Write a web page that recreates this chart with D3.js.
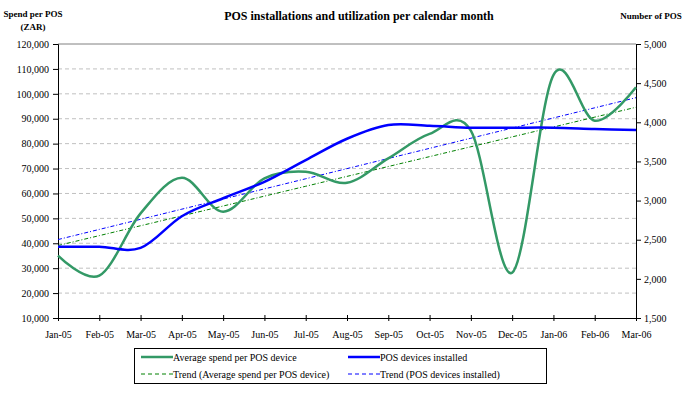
<!DOCTYPE html>
<html>
<head>
<meta charset="utf-8">
<script src="https://cdn.jsdelivr.net/npm/d3@7"></script>
<style>
  body { margin: 0; background: #fff; }
  svg, svg text { font-family: "Liberation Serif", "Times New Roman", serif; }
</style>
</head>
<body>
<svg id="chart" width="684" height="395"></svg>
<script>
// data
const months = ["Jan-05", "Feb-05", "Mar-05", "Apr-05", "May-05", "Jun-05", "Jul-05", "Aug-05",
  "Sep-05", "Oct-05", "Nov-05", "Dec-05", "Jan-06", "Feb-06", "Mar-06"];
const avgSpend = [35000, 27000, 52000, 66300, 52700, 66100, 68700, 64300,
  74100, 83900, 85200, 28200, 107500, 89200, 102600];
const devices = [2410, 2410, 2395, 2800, 3030, 3240, 3518, 3790,
  3965, 3956, 3931, 3931, 3931, 3914, 3901];
const leftTicks = d3.range(10000, 120001, 10000);
const rightTicks = d3.range(1500, 5001, 500);

// plot box
const margin = { top: 44, right: 48, bottom: 77, left: 58 };
const width = 684 - margin.left - margin.right;
const height = 395 - margin.top - margin.bottom;

const svg = d3.select("#chart");
const g = svg.append("g").attr("transform", `translate(${margin.left},${margin.top})`);

// scales
const x = d3.scalePoint().domain(months).range([0, width]);
const yL = d3.scaleLinear().domain([10000, 120000]).range([height, 0]);
const yR = d3.scaleLinear().domain([1500, 5000]).range([height, 0]);

// linear trend (least squares over month index)
function trend(values) {
  const n = values.length;
  const xs = d3.range(n);
  const mx = d3.mean(xs), my = d3.mean(values);
  const b = d3.sum(xs, i => (i - mx) * (values[i] - my)) / d3.sum(xs, i => (i - mx) ** 2);
  const a = my - b * mx;
  return xs.map(i => a + b * i);
}

// gridlines
g.append("g")
  .selectAll("line")
  .data(leftTicks.filter(t => t > 10000 && t < 120000))
  .join("line")
  .attr("x1", 0).attr("x2", width)
  .attr("y1", d => yL(d)).attr("y2", d => yL(d))
  .attr("stroke", "#c0c0c0")
  .attr("stroke-dasharray", "4,3");

g.append("line")
  .attr("x1", 0).attr("x2", width)
  .attr("y1", 0).attr("y2", 0)
  .attr("stroke", "#808080");

// axes
const fmt = d3.format(",");
const leftAxis = g.append("g")
  .call(d3.axisLeft(yL).tickValues(leftTicks).tickFormat(fmt).tickSize(5).tickPadding(4));
const rightAxis = g.append("g")
  .attr("transform", `translate(${width},0)`)
  .call(d3.axisRight(yR).tickValues(rightTicks).tickFormat(fmt).tickSize(5).tickPadding(3));
const bottomAxis = g.append("g")
  .attr("transform", `translate(0,${height})`)
  .call(d3.axisBottom(x).tickSize(3).tickPadding(10));

[leftAxis, rightAxis, bottomAxis].forEach(a => {
  a.attr("font-family", "Liberation Serif, serif").attr("font-size", 10);
  a.select(".domain").attr("stroke", "#000");
  a.selectAll(".tick line").attr("stroke", "#000");
  a.selectAll("text").attr("fill", "#000");
});
bottomAxis.selectAll(".tick line").attr("y1", -3);

// trend lines
const trendLine = (scale) => d3.line().x((d, i) => x(months[i])).y(d => scale(d));
g.append("path")
  .datum(trend(avgSpend))
  .attr("d", trendLine(yL))
  .attr("fill", "none").attr("stroke", "#008000").attr("stroke-width", 1)
  .attr("stroke-dasharray", "4,2,1,2");
g.append("path")
  .datum(trend(devices))
  .attr("d", trendLine(yR))
  .attr("fill", "none").attr("stroke", "#0000ff").attr("stroke-width", 1)
  .attr("stroke-dasharray", "4,2,1,2");

// smoothed series
const smooth = (scale) => d3.line()
  .x((d, i) => x(months[i]))
  .y(d => scale(d))
  .curve(d3.curveCardinal.tension(0));

g.append("path")
  .datum(avgSpend)
  .attr("d", smooth(yL))
  .attr("fill", "none").attr("stroke", "#339966").attr("stroke-width", 2.5);
g.append("path")
  .datum(devices)
  .attr("d", smooth(yR))
  .attr("fill", "none").attr("stroke", "#0000ff").attr("stroke-width", 2.5);

// titles
svg.append("text")
  .attr("x", 359).attr("y", 20)
  .attr("text-anchor", "middle")
  .style("font-size", "12px").style("font-weight", "bold")
  .text("POS installations and utilization per calendar month");

svg.append("text")
  .attr("x", 33).attr("y", 17)
  .attr("text-anchor", "middle")
  .style("font-size", "9px").style("font-weight", "bold")
  .text("Spend per POS");
svg.append("text")
  .attr("x", 33).attr("y", 30)
  .attr("text-anchor", "middle")
  .style("font-size", "9px").style("font-weight", "bold")
  .text("(ZAR)");
svg.append("text")
  .attr("x", 651).attr("y", 19)
  .attr("text-anchor", "middle")
  .style("font-size", "9px").style("font-weight", "bold")
  .text("Number of POS");

// legend
const legend = svg.append("g");
legend.append("rect")
  .attr("x", 134.5).attr("y", 348.5)
  .attr("width", 412).attr("height", 35)
  .attr("fill", "#fff").attr("stroke", "#000");

const legendItems = [
  { label: "Average spend per POS device", color: "#339966", w: 2.5, dash: null, x: 141, y: 357 },
  { label: "POS devices installed", color: "#0000ff", w: 2.5, dash: null, x: 348, y: 357 },
  { label: "Trend (Average spend per POS device)", color: "#008000", w: 1, dash: "4,3", x: 141, y: 374 },
  { label: "Trend (POS devices installed)", color: "#0000ff", w: 1, dash: "4,3", x: 348, y: 374 }
];
legendItems.forEach(d => {
  legend.append("line")
    .attr("x1", d.x).attr("x2", d.x + 32)
    .attr("y1", d.y).attr("y2", d.y)
    .attr("stroke", d.color).attr("stroke-width", d.w)
    .attr("stroke-dasharray", d.dash);
  legend.append("text")
    .attr("x", d.x + 32).attr("y", d.y + 3.5)
    .style("font-size", "10px")
    .text(d.label);
});
</script>
</body>
</html>
